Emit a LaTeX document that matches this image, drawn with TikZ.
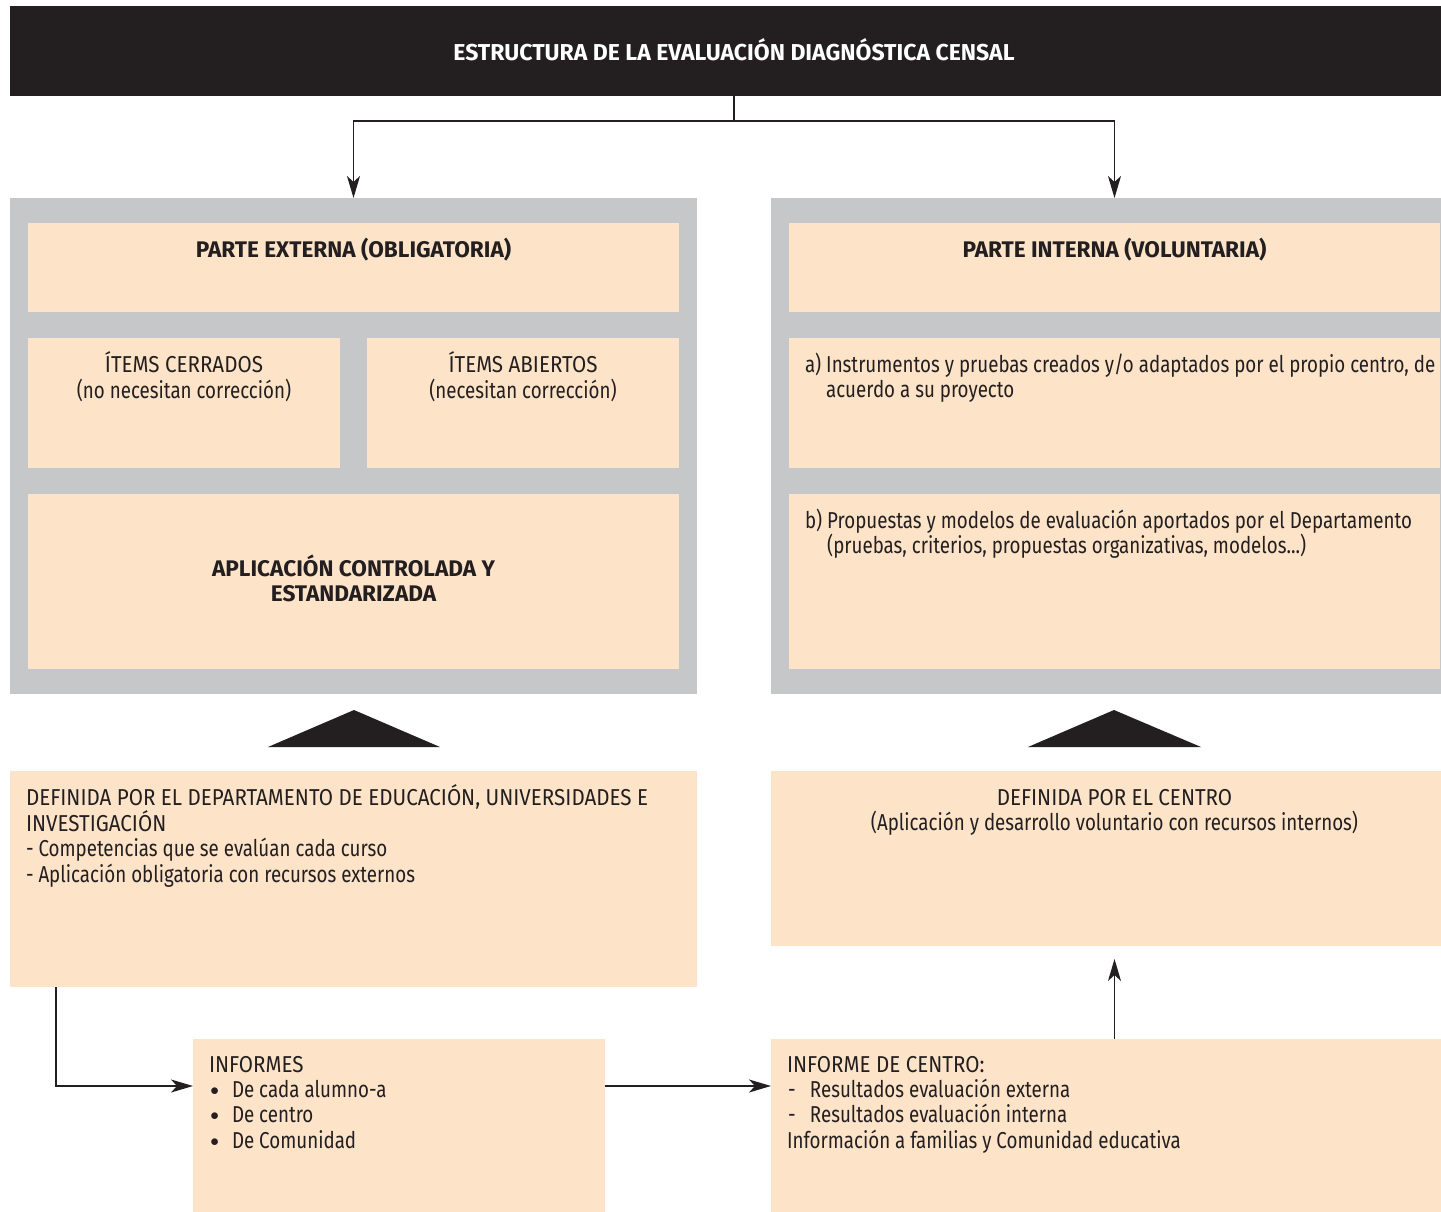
\documentclass[tikz,border=0pt]{standalone}
\usepackage{fontspec}
\setmainfont{Fira Sans}[UprightFeatures={FakeStretch=0.815}]
\newfontfamily\capsf{Fira Sans}[FakeStretch=0.895]
\usetikzlibrary{arrows.meta,calc}
\definecolor{peach}{RGB}{253,227,200}
\definecolor{panelgray}{RGB}{198,199,201}
\definecolor{ink}{RGB}{35,31,32}
\newcommand{\bul}{\makebox[23pt][l]{\hspace{1.4pt}\raisebox{2pt}{\fontsize{18.5}{18.5}\selectfont$\bullet$}}}
\newcommand{\dsh}{\makebox[23pt][l]{\hspace{1pt}-}}
\tikzset{
  rbox/.style={fill=peach, inner sep=0pt, outer sep=0pt, anchor=north west},
  gbox/.style={fill=panelgray, inner sep=0pt, outer sep=0pt, anchor=north west},
  txt/.style={inner sep=0pt, outer sep=0pt, text=ink, font=\fontsize{23}{25.4}\selectfont, align=left},
  btxt/.style={txt, font=\fontsize{22.6}{25.4}\selectfont\bfseries, align=center},
  arr/.style={draw=ink, line width=1.3pt, -{Stealth[length=22pt,width=13pt,inset=6pt]}},
  plain/.style={draw=ink, line width=1.3pt}
}
\begin{document}
\begin{tikzpicture}[x=1pt,y=-1pt]
\useasboundingbox (0,0) rectangle (1441,1212);
% title
\node[fill=ink, inner sep=0pt, outer sep=0pt, anchor=north west, minimum width=1431, minimum height=90] (title) at (10,6) {};
\node[btxt, text=white, font=\fontsize{23}{25}\selectfont\bfseries] (titletxt) at (734,50) {ESTRUCTURA DE LA EVALUACIÓN DIAGNÓSTICA CENSAL};
% panels
\node[gbox, minimum width=687, minimum height=496] (lp) at (10,198) {};
\node[gbox, minimum width=670, minimum height=496] (rp) at (771,198) {};
% left inner boxes
\node[rbox, minimum width=651, minimum height=89] (pext) at (28,223) {};
\node[rbox, minimum width=312, minimum height=130] (icer) at (28,338) {};
\node[rbox, minimum width=312, minimum height=130] (iabi) at (367,338) {};
\node[rbox, minimum width=651, minimum height=175] (apli) at (28,494) {};
% right inner boxes
\node[rbox, minimum width=651, minimum height=89] (pint) at (789,223) {};
\node[rbox, minimum width=651, minimum height=130] (inst) at (789,338) {};
\node[rbox, minimum width=651, minimum height=175] (prop) at (789,494) {};
% texts in panels
\node[btxt, anchor=north] (pexttxt) at ([yshift=-15]pext.north) {PARTE EXTERNA (OBLIGATORIA)};
\node[txt, align=center, anchor=north] (icertxt) at ([yshift=-14]icer.north) {{\capsf ÍTEMS CERRADOS}\\(no necesitan corrección)};
\node[txt, align=center, anchor=north] (iabitxt) at ([yshift=-14]iabi.north) {{\capsf ÍTEMS ABIERTOS}\\(necesitan corrección)};
\node[btxt] (aplitxt) at ([yshift=3]apli.center) {APLICACIÓN CONTROLADA Y\\ESTANDARIZADA};
\node[btxt, anchor=north] (pinttxt) at ([yshift=-15]pint.north) {PARTE INTERNA (VOLUNTARIA)};
\node[txt, anchor=north west] (insttxt) at ([xshift=16,yshift=-15]inst.north west) {a)~Instrumentos y pruebas creados y/o adaptados por el propio centro, de\\\hphantom{a)~}acuerdo a su proyecto};
\node[txt, anchor=north west] (proptxt) at ([xshift=16,yshift=-15]prop.north west) {b)~Propuestas y modelos de evaluación aportados por el Departamento\\\hphantom{b)~}(pruebas, criterios, propuestas organizativas, modelos...)};
% triangles
\fill[ink] (268,747) -- (354,710) -- (440,747) -- cycle;
\fill[ink] (1028,747) -- (1114,710) -- (1201,747) -- cycle;
% lower boxes
\node[rbox, minimum width=687, minimum height=216] (defl) at (10,771) {};
\node[rbox, minimum width=670, minimum height=175] (defr) at (771,771) {};
\node[rbox, minimum width=412, minimum height=173] (inf) at (193,1039) {};
\node[rbox, minimum width=670, minimum height=173] (infc) at (771,1039) {};
\node[txt, anchor=north west] (defltxt) at ([xshift=16,yshift=-14]defl.north west) {{\capsf DEFINIDA POR EL DEPARTAMENTO DE EDUCACIÓN, UNIVERSIDADES E}\\{\capsf INVESTIGACIÓN}\\- Competencias que se evalúan cada curso\\- Aplicación obligatoria con recursos externos};
\node[txt, align=center, anchor=north] (defrtxt) at ([yshift=-18]defr.north -| pint.north) {{\capsf DEFINIDA POR EL CENTRO}\\(Aplicación y desarrollo voluntario con recursos internos)};
\node[txt, anchor=north west] (inftxt) at ([xshift=16,yshift=-17]inf.north west) {{\capsf INFORMES}\\\bul De cada alumno-a\\\bul De centro\\\bul De Comunidad};
\node[txt, anchor=north west] (infctxt) at ([xshift=16,yshift=-17]infc.north west) {{\capsf INFORME DE CENTRO:}\\\dsh Resultados evaluación externa\\\dsh Resultados evaluación interna\\Información a familias y Comunidad educativa};
% connectors
\coordinate (split) at (734,121);
\draw[plain] (title.south -| split) -- (split);
\draw[arr] (split) -| (lp.north);
\draw[arr] (split) -| (pint.north |- rp.north);
\coordinate (infin) at ($(inf.north west)+(0,47)$);
\draw[arr] ([xshift=46]defl.south west) |- (infin);
\draw[arr] (inf.east |- infin) -- (infc.west |- infin);
\draw[arr, shorten >=13pt] (infc.north -| pint.north) -- (defr.south -| pint.north);
\end{tikzpicture}
\end{document}
